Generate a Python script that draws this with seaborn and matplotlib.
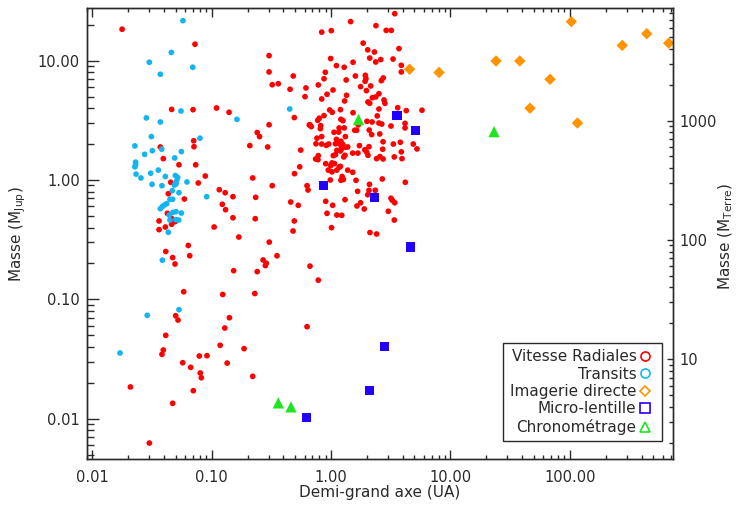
import numpy as np
import pandas as pd
import matplotlib
matplotlib.use("Agg")
import matplotlib.pyplot as plt
import seaborn as sns
from matplotlib.ticker import FixedLocator, LogLocator, NullFormatter, FuncFormatter
from matplotlib.lines import Line2D

# ---------------- data (semi-major axis in AU, mass in Jupiter masses) -------------
rv_a = [
    0.0178, 0.0726, 0.303, 0.303, 0.322, 0.362, 0.483, 0.454, 0.617, 0.606,
    0.0463, 0.0699, 0.110, 0.140, 0.303, 0.493, 0.658, 0.241, 0.252, 0.0708,
    0.0712, 0.0372, 0.0394, 0.0533, 0.0736, 0.209, 0.295, 0.558, 0.547, 0.0886,
    0.221, 0.495, 0.630, 0.642, 0.322, 0.0774, 0.0455, 0.0434, 0.0591, 0.116,
    0.130, 0.151, 0.234, 0.123, 0.131, 0.151, 0.232, 0.460, 0.532, 0.493,
    0.481, 0.105, 0.169, 0.304, 0.353, 0.0638, 0.0656, 0.0413, 0.0472, 0.270,
    0.0426, 0.0460, 0.0363, 0.0494, 0.0463, 0.0363, 0.0410, 0.0494, 0.287, 0.282,
    0.667, 0.153, 0.241, 0.0584, 0.124, 0.230, 0.0500, 0.0523, 0.141, 0.129,
    0.630, 0.0413, 0.0394, 0.0384, 0.118, 0.187, 0.0789, 0.0915, 0.0573, 0.0668,
    0.135, 0.0804, 0.0820, 0.221, 0.0209, 0.0703, 0.0472, 0.0301, 0.783,
    3.42, 1.46, 2.38, 2.90, 3.20, 0.836, 1.006, 1.86, 2.03, 2.31, 3.71,
    0.994, 2.11, 2.37, 2.61, 3.31, 1.53, 1.11, 1.29, 3.88, 3.88,
    0.896, 0.874, 1.60, 1.94, 1.96, 1.93, 2.74, 2.64, 1.34, 0.783,
    1.77, 1.98, 2.15, 1.04, 0.926, 2.52, 1.35, 0.836, 1.30, 2.22,
    2.37, 2.04, 2.11, 2.78, 2.83, 2.52, 3.62, 4.27, 5.78, 0.975,
    1.025, 1.20, 1.53, 0.874, 0.798, 0.774, 2.44, 1.21, 1.26, 1.69,
    2.00, 2.21, 2.52, 2.66, 4.17, 4.17, 3.18, 0.667, 0.684, 0.820,
    0.814, 1.06, 1.17, 1.16, 1.29, 1.58, 1.64, 2.09, 2.19, 2.56,
    0.836, 0.763, 1.11, 1.32, 1.21, 0.749, 0.836, 0.913, 0.957, 1.09,
    1.18, 1.25, 1.32, 1.38, 1.22, 1.20, 1.12, 1.73, 2.08, 1.92,
    1.99, 2.04, 2.73, 3.33, 3.81, 4.89, 5.25, 2.71, 3.88, 1.52,
    1.68, 1.31, 1.28, 1.09, 1.045, 0.783, 0.744, 0.778, 2.41, 2.57,
    2.73, 3.39, 3.93, 0.903, 1.02, 0.994, 1.07, 1.17, 1.20, 0.949,
    1.02, 1.12, 1.38, 1.52, 1.24, 1.27, 1.21, 1.62, 2.69, 4.19,
    2.10, 2.08, 2.35, 2.03, 1.67, 1.31, 0.903, 1.033, 1.77, 1.65,
    1.90, 3.18, 3.26, 3.42, 3.02, 3.39, 0.926, 1.12, 1.23, 1.01,
    2.12, 2.41, 0.987,
]
rv_m = [
    18.3, 13.7, 11.0, 8.03, 6.28, 6.40, 7.43, 5.75, 5.90, 4.99,
    3.90, 3.88, 4.01, 3.69, 2.90, 3.33, 2.89, 2.50, 2.31, 2.13,
    1.90, 1.89, 1.51, 1.34, 1.34, 1.94, 1.89, 1.78, 1.29, 1.08,
    1.04, 1.13, 0.896, 0.825, 0.896, 0.944, 0.957, 0.768, 0.693, 0.829,
    0.783, 0.725, 0.716, 0.626, 0.564, 0.483, 0.474, 0.654, 0.614, 0.454,
    0.374, 0.404, 0.333, 0.302, 0.232, 0.283, 0.232, 0.252, 0.224, 0.214,
    0.526, 0.478, 0.454, 0.448, 0.426, 0.384, 0.404, 0.198, 0.201, 0.192,
    0.190, 0.174, 0.171, 0.116, 0.110, 0.112, 0.0730, 0.0672, 0.0703, 0.0576,
    0.0591, 0.0500, 0.0377, 0.0347, 0.0413, 0.0387, 0.0336, 0.0338, 0.0295, 0.0270,
    0.0293, 0.0242, 0.0221, 0.0227, 0.0185, 0.0172, 0.0135, 0.00627, 0.145,
    24.7, 21.2, 19.6, 17.9, 17.9, 17.3, 17.8, 14.0, 12.3, 11.8, 12.6,
    10.4, 10.5, 9.73, 10.2, 10.3, 9.68, 9.07, 8.79, 9.13, 8.03,
    7.98, 7.05, 7.43, 7.53, 7.05, 6.71, 7.15, 6.79, 6.88, 6.25,
    6.05, 5.60, 6.13, 5.67, 5.22, 5.28, 5.12, 4.77, 4.59, 4.89,
    4.96, 4.50, 4.39, 4.68, 4.39, 3.93, 4.03, 3.81, 3.84, 3.86,
    3.69, 3.88, 3.66, 3.46, 3.29, 3.16, 3.44, 3.22, 3.14, 2.89,
    3.10, 3.06, 3.00, 2.94, 2.98, 2.73, 2.83, 2.90, 2.80, 2.85,
    2.69, 2.51, 2.73, 2.52, 2.73, 2.61, 2.61, 2.62, 2.40, 2.43,
    2.31, 2.24, 2.19, 2.31, 2.11, 2.01, 2.00, 1.95, 2.00, 2.01,
    2.00, 2.00, 1.88, 1.89, 1.82, 1.75, 1.77, 1.94, 1.90, 1.79,
    1.71, 1.61, 2.09, 2.00, 2.07, 2.00, 1.82, 1.81, 1.72, 1.68,
    1.68, 1.61, 1.56, 1.63, 1.60, 1.60, 1.50, 1.48, 1.51, 1.57,
    1.50, 1.56, 1.51, 1.37, 1.39, 1.32, 1.37, 1.28, 1.30, 1.21,
    1.17, 1.21, 1.21, 1.16, 1.07, 1.01, 0.994, 0.994, 1.02, 0.957,
    0.920, 0.820, 0.820, 0.753, 0.804, 0.684, 0.663, 0.614, 0.645, 0.606,
    0.572, 0.703, 0.676, 0.645, 0.547, 0.462, 0.526, 0.509, 0.506, 0.399,
    0.363, 0.353, 1.00,
]

tr_a = [
    0.0576, 0.0460, 0.0301, 0.0372, 0.0695, 0.0554, 0.451, 0.163, 0.0284, 0.0372,
    0.0313, 0.0799, 0.0228, 0.0319, 0.0382, 0.0558, 0.0275, 0.0491, 0.0231, 0.0231,
    0.0228, 0.0233, 0.0256, 0.0309, 0.0358, 0.0410, 0.0497, 0.0520, 0.0510, 0.0503,
    0.0487, 0.0317, 0.0384, 0.0622, 0.0469, 0.0533, 0.0448, 0.0472, 0.0910, 0.0421,
    0.0402, 0.0387, 0.0372, 0.0475, 0.0503, 0.0558, 0.0442, 0.0448, 0.0503, 0.0530,
    0.0434, 0.0387, 0.0289, 0.0533, 0.0171,
]
tr_m = [
    21.6, 11.7, 9.68, 7.68, 8.79, 3.78, 3.93, 3.22, 3.31, 3.06,
    2.31, 2.24, 1.93, 1.76, 1.81, 1.73, 1.64, 1.53, 1.41, 1.34,
    1.29, 1.12, 1.04, 1.14, 1.21, 1.07, 1.09, 1.05, 0.987, 0.926,
    0.908, 0.920, 0.896, 0.963, 0.814, 0.783, 0.690, 0.690, 0.725, 0.634,
    0.617, 0.598, 0.575, 0.536, 0.543, 0.529, 0.509, 0.462, 0.465, 0.462,
    0.365, 0.213, 0.0736, 0.0820, 0.0356,
]

im_a = [4.55, 8.03, 24.1, 38.1, 68.3, 46.4, 116, 103, 275, 441, 673]
im_m = [8.46, 7.95, 9.92, 9.92, 6.97, 3.99, 3.00, 21.2, 13.4, 16.8, 14.0]

ml_a = [3.57, 5.08, 0.862, 2.31, 4.62, 2.80, 2.09, 0.621]
ml_m = [3.48, 2.61, 0.903, 0.716, 0.275, 0.0405, 0.0173, 0.0103]

ch_a = [1.70, 23.2, 0.362, 0.462]
ch_m = [3.21, 2.54, 0.0136, 0.0126]

methods = ["Vitesse Radiales", "Transits", "Imagerie directe", "Micro-lentille", "Chronométrage"]
x_ticks = [0.01, 0.1, 1, 10, 100]
y_ticks = [0.01, 0.1, 1, 10]
y2_ticks = [10, 100, 1000]
MJUP_IN_MEARTH = 317.8

# ---------------- styling ----------------
colors = ["#ff0000", "#14b4f0", "#ff9400", "#2200ff", "#1ee61e"]
markers = ["o", "o", "D", "s", "^"]
sizes = [17, 17, 34, 44, 66]
leg_ms = [6.5, 6.5, 5.0, 6.5, 7.0]

frames = []
for name, a, m in zip(methods, [rv_a, tr_a, im_a, ml_a, ch_a], [rv_m, tr_m, im_m, ml_m, ch_m]):
    frames.append(pd.DataFrame({"a": a, "m": m, "method": name}))
df = pd.concat(frames, ignore_index=True)

sns.set_style("ticks")
plt.rcParams["font.family"] = ["DejaVu Sans"]
plt.rcParams["mathtext.fontset"] = "dejavusans"
txt_color = "#2a2a2a"

fig = plt.figure(figsize=(7.37, 5.12), dpi=100)
ax = fig.add_axes([0.1176, 0.1035, 0.7952, 0.8803])

sns.scatterplot(
    data=df, x="a", y="m", hue="method", style="method", size="method",
    palette=dict(zip(methods, colors)), markers=dict(zip(methods, markers)),
    sizes=dict(zip(methods, sizes)), linewidth=0, alpha=1.0, legend=False, ax=ax,
)

ax.set_xscale("log")
ax.set_yscale("log")
xlo, xhi = 0.00899, 728.0
ylo, yhi = 0.00461, 27.4
ax.set_xlim(xlo, xhi)
ax.set_ylim(ylo, yhi)

fmt2 = FuncFormatter(lambda v, p: f"{v:.2f}")
ax.xaxis.set_major_locator(FixedLocator(x_ticks))
ax.xaxis.set_major_formatter(fmt2)
ax.xaxis.set_minor_locator(LogLocator(base=10, subs=np.arange(2, 10)))
ax.xaxis.set_minor_formatter(NullFormatter())
ax.yaxis.set_major_locator(FixedLocator(y_ticks))
ax.yaxis.set_major_formatter(fmt2)
ax.yaxis.set_minor_locator(LogLocator(base=10, subs=np.arange(2, 10)))
ax.yaxis.set_minor_formatter(NullFormatter())

ax.set_xlabel("")
ax.set_ylabel("")
ax.tick_params(axis="x", which="major", direction="in", top=True, bottom=True,
               length=6.5, width=1, pad=8, labelsize=10.5, colors=txt_color)
ax.tick_params(axis="x", which="minor", direction="in", top=True, bottom=True,
               length=3.2, width=1, colors=txt_color)
ax.tick_params(axis="y", which="major", direction="in", left=True, right=False,
               length=8.8, width=1, pad=5, labelsize=10.5, colors=txt_color)
ax.tick_params(axis="y", which="minor", direction="in", left=True, right=False,
               length=5.0, width=1, colors=txt_color)
for s in ax.spines.values():
    s.set_color(txt_color)
    s.set_linewidth(1.0)

ax2 = ax.twinx()
ax2.set_yscale("log")
ax2.set_ylim(ylo * MJUP_IN_MEARTH, yhi * MJUP_IN_MEARTH)
ax2.yaxis.set_major_locator(FixedLocator(y2_ticks))
ax2.yaxis.set_major_formatter(FuncFormatter(lambda v, p: f"{v:.0f}"))
ax2.yaxis.set_minor_locator(LogLocator(base=10, subs=np.arange(2, 10)))
ax2.yaxis.set_minor_formatter(NullFormatter())
ax2.tick_params(axis="y", which="major", direction="in", length=4.5, width=1,
                pad=5, labelsize=10.5, colors=txt_color)
ax2.tick_params(axis="y", which="minor", direction="in", length=3.2, width=1, colors=txt_color)
for s in ax2.spines.values():
    s.set_color(txt_color)
    s.set_linewidth(1.0)

# axis titles
fig.text(18 / 737, 1 - 233.7 / 512, "Masse (M$_{\\mathrm{Jup}}$)", rotation=90,
         ha="center", va="center", fontsize=11, color=txt_color)
fig.text(726 / 737, 1 - 236 / 512, "Masse (M$_{\\mathrm{Terre}}$)", rotation=90,
         ha="center", va="center", fontsize=11, color=txt_color)
fig.text(379.7 / 737, 1 - 493 / 512, "Demi-grand axe (UA)", ha="center", va="center",
         fontsize=11, color=txt_color)

# legend (open symbols on the right, labels right-aligned)
handles = [
    Line2D([], [], linestyle="none", marker=mk, markersize=ms, markerfacecolor="none",
           markeredgecolor=c, markeredgewidth=1.2, label=name)
    for name, mk, ms, c in zip(methods, markers, leg_ms, colors)
]
leg = ax.legend(handles=handles, loc="upper right", bbox_to_anchor=(0.9818, 0.258),
                markerfirst=False, frameon=True, fancybox=False, framealpha=1,
                edgecolor=txt_color, fontsize=11, handlelength=1.4,
                handletextpad=-0.14, labelspacing=0.16, borderpad=0.42, borderaxespad=0)
leg.get_frame().set_linewidth(1.0)
for t in leg.get_texts():
    t.set_color(txt_color)

fig.savefig("out.png", dpi=100)
